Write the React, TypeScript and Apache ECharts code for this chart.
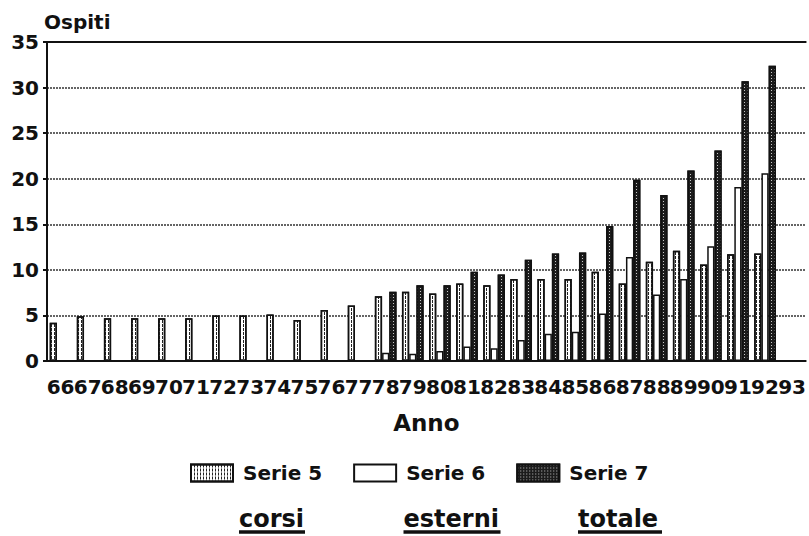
import React, { useEffect, useRef } from "react";
import * as echarts from "echarts";

const years = ["66","67","68","69","70","71","72","73","74","75","76","77","78","79","80","81","82","83","84","85","86","87","88","89","90","91","92","93"];
const serie5 = [4.2, 4.9, 4.7, 4.7, 4.7, 4.7, 5.0, 5.0, 5.1, 4.5, 5.6, 6.1, 7.1, 7.6, 7.4, 8.5, 8.3, 9.0, 9.0, 9.0, 9.8, 8.5, 10.9, 12.1, 10.6, 11.7, 11.8, null];
const serie6 = [null, null, null, null, null, null, null, null, null, null, null, null, 0.9, 0.8, 1.1, 1.6, 1.4, 2.3, 3.0, 3.2, 5.2, 11.4, 7.3, 9.0, 12.6, 19.1, 20.6, null];
const serie7 = [null, null, null, null, null, null, null, null, null, null, null, null, 7.6, 8.3, 8.3, 9.8, 9.5, 11.1, 11.8, 11.9, 14.8, 19.9, 18.2, 20.9, 23.1, 30.7, 32.4, null];
const seriesNames = ["Serie 5", "Serie 6", "Serie 7"];
const captions = ["corsi", "esterni", "totale"];
const yTicks = { min: 0, max: 35, interval: 5 };

const FONT = "DejaVu Sans";

export default function App() {
  const ref = useRef<HTMLDivElement>(null);
  useEffect(() => {
    if (!ref.current) return;
    const chart = echarts.init(ref.current, null, { renderer: "svg" });
    const border = { borderColor: "#111", borderWidth: 1.5 };
    const captionX = [272, 452, 620];
    const captionW = [66, 97, 84];
    const graphic: any[] = [];
    captions.forEach((c, i) => {
      graphic.push({
        type: "text",
        left: captionX[i] - captionW[i] / 2,
        top: 507,
        style: { text: c, font: `bold 24px '${FONT}'`, fill: "#111" },
      });
      graphic.push({
        type: "line",
        shape: { x1: captionX[i] - captionW[i] / 2, y1: 532, x2: captionX[i] + captionW[i] / 2, y2: 532 },
        style: { stroke: "#111", lineWidth: 3.5 },
      });
    });
    chart.setOption({
      animation: false,
      backgroundColor: "#fff",
      textStyle: { fontFamily: FONT, fontWeight: "bold", color: "#111" },
      grid: { left: 47, right: 1, top: 42, bottom: 175, containLabel: false },
      legend: {
        data: seriesNames,
        top: 458,
        left: 185,
        icon: "rect",
        itemWidth: 42,
        itemHeight: 17,
        itemGap: 31,
        textStyle: { fontFamily: FONT, fontWeight: "bold", fontSize: 20, color: "#111", padding: [0, 0, 0, 5] },
      },
      xAxis: [
        {
          type: "category",
          data: years,
          name: "Anno",
          nameLocation: "middle",
          nameGap: 50,
          nameTextStyle: { fontFamily: FONT, fontWeight: "bold", fontSize: 23, color: "#111" },
          axisLine: { show: true, lineStyle: { color: "#111", width: 2 } },
          axisTick: { show: false },
          axisLabel: { interval: 0, margin: 16, fontFamily: FONT, fontWeight: "bold", fontSize: 20, color: "#111" },
        },
        {
          type: "category",
          data: years,
          position: "top",
          axisLine: { show: true, lineStyle: { color: "#111", width: 2 } },
          axisTick: { show: false },
          axisLabel: { show: false },
        },
      ],
      yAxis: {
        type: "value",
        min: yTicks.min,
        max: yTicks.max,
        interval: yTicks.interval,
        name: "Ospiti",
        nameLocation: "end",
        nameGap: 10,
        nameTextStyle: { fontFamily: FONT, fontWeight: "bold", fontSize: 20, color: "#111", align: "left", padding: [0, 0, 0, -3] },
        axisLine: { show: true, lineStyle: { color: "#111", width: 2 } },
        axisTick: { show: true, length: 4, lineStyle: { color: "#111", width: 2 } },
        axisLabel: { margin: 8, fontFamily: FONT, fontWeight: "bold", fontSize: 20, color: "#111" },
        splitLine: { show: true, lineStyle: { color: "#333", width: 1.5, type: [2, 1] } },
      },
      series: [
        {
          name: seriesNames[0],
          type: "bar",
          data: serie5,
          barGap: "0%",
          barCategoryGap: "20%",
          itemStyle: {
            color: "#fff",
            ...border,
            decal: { symbol: "rect", symbolSize: 1, dashArrayX: [1, 2], dashArrayY: [3, 1], color: "#222", rotation: 0 },
          },
        },
        {
          name: seriesNames[1],
          type: "bar",
          data: serie6,
          barGap: "0%",
          barCategoryGap: "20%",
          itemStyle: { color: "#fff", ...border },
        },
        {
          name: seriesNames[2],
          type: "bar",
          data: serie7,
          barGap: "0%",
          barCategoryGap: "20%",
          itemStyle: {
            color: "#1c1c1c",
            ...border,
            decal: { symbol: "rect", symbolSize: 1, dashArrayX: [1, 2], dashArrayY: [1, 2], color: "rgba(255,255,255,0.75)", rotation: 0 },
          },
        },
      ],
      graphic,
    });
    return () => chart.dispose();
  }, []);
  return <div ref={ref} style={{ width: 809, height: 536, position: "absolute", left: 0, top: 0 }} />;
}
